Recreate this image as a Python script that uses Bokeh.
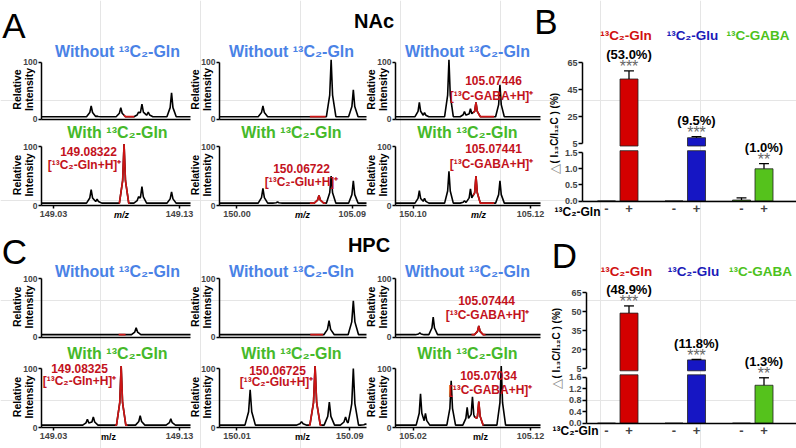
import numpy as np
from bokeh.plotting import figure
from bokeh.models import Range1d, LinearAxis, FixedTicker, NumeralTickFormatter
from bokeh.embed import file_html
from bokeh.resources import INLINE
from bokeh.core.properties import value

# ============================ DATA ============================
# ---- Panel A (NAc): peaks (m/z, relative intensity %) ----
nac_gln_without_mz = [149.0599, 149.0644, 149.0834, 149.0975, 149.1002, 149.1052, 149.1237]
nac_gln_without_int = [23, 5, 20, 12, 26, 12, 46]
nac_gln_without_red = [149.0860, 0]          # labelled peak: m/z, intensity
nac_gln_without_win = [149.0858, 149.0940]   # highlighted m/z window
nac_gln_with_mz = [149.0599, 149.0646, 149.0975, 149.1002, 149.1052, 149.1237]
nac_gln_with_int = [27, 11, 15, 32, 3, 23]
nac_gln_with_red = [149.0860, 104]
nac_gln_with_win = [149.0818, 149.0905]

nac_glu_without_mz = [150.0203, 150.0488, 150.0542, 150.0735, 150.0908]
nac_glu_without_int = [23, 2, 2, 104, 51]
nac_glu_without_red = [150.0629, 0]
nac_glu_without_win = [150.0569, 150.0691]
nac_glu_with_mz = [150.0203, 150.0317, 150.0735, 150.0862, 150.0908]
nac_glu_with_int = [29, 6, 50, 3, 42]
nac_glu_with_red = [150.0640, 17]
nac_glu_with_win = [150.0569, 150.0691]

nac_gaba_without_mz = [105.0254, 105.0298, 105.0506, 105.0638, 105.0689, 105.0940]
nac_gaba_without_int = [29, 11, 104, 13, 18, 60]
nac_gaba_without_red = [105.0736, 29]
nac_gaba_without_win = [105.0712, 105.0890]
nac_gaba_with_mz = [105.0254, 105.0298, 105.0357, 105.0506, 105.0638, 105.0689, 105.0940]
nac_gaba_with_int = [25, 12, 4, 58, 8, 28, 42]
nac_gaba_with_red = [105.0736, 50]
nac_gaba_with_win = [105.0712, 105.0890]

# ---- Panel C (HPC) ----
hpc_gln_without_mz = [149.0569, 149.0956, 149.1010, 149.1231]
hpc_gln_without_int = [3, 16, 3, 3]
hpc_gln_without_red = [149.0845, 0]
hpc_gln_without_win = [149.0817, 149.0872]
hpc_gln_with_mz = [149.0569, 149.0616, 149.0988, 149.1231]
hpc_gln_with_int = [14, 18, 20, 15]
hpc_gln_with_red = [149.0837, 104]
hpc_gln_with_win = [149.0790, 149.0887]

hpc_glu_without_mz = [150.0199, 150.0321, 150.0494, 150.0753, 150.0925, 150.0987]
hpc_glu_without_int = [3, 4, 2, 28, 62, 4]
hpc_glu_without_red = [150.0671, 0]
hpc_glu_without_win = [150.0620, 150.0710]
hpc_glu_with_mz = [150.0194, 150.0321, 150.0518, 150.0558, 150.0755, 150.0870, 150.0925, 150.1011]
hpc_glu_with_int = [64, 4, 3, 10, 43, 18, 100, 6]
hpc_glu_with_red = [150.0654, 104]
hpc_glu_with_win = [150.0610, 150.0700]

hpc_gaba_without_mz = [105.0258, 105.0372, 105.0525, 105.0661]
hpc_gaba_without_int = [7, 34, 4, 3]
hpc_gaba_without_red = [105.0760, 19]
hpc_gaba_without_win = [105.0698, 105.0817]
hpc_gaba_with_mz = [105.0264, 105.0306, 105.0525, 105.0661, 105.0706, 105.0951]
hpc_gaba_with_int = [57, 24, 79, 34, 52, 104]
hpc_gaba_with_red = [105.0760, 44]
hpc_gaba_with_win = [105.0727, 105.0800]

# x-axis tick values and their printed labels (as printed in the original)
nac_tick_vals = [[149.03, 149.13], [150.00, 150.09], [105.02, 105.12]]
nac_tick_text = [["149.03", "149.13"], ["150.00", "105.09"], ["150.10", "105.12"]]
hpc_tick_vals = [[149.03, 149.13], [150.01, 150.09], [105.02, 105.12]]
hpc_tick_text = [["149.03", "149.13"], ["150.01", "150.09"], ["105.02", "105.12"]]

# red peak annotations
nac_peak_labels = {(0, 1): ["149.08322", "[¹³C₂-Gln+H]⁺"], (1, 1): ["150.06722", "[¹³C₂-Glu+H]⁺"],
                   (2, 0): ["105.07446", "[¹³C-GABA+H]⁺"], (2, 1): ["105.07441", "[¹³C-GABA+H]⁺"]}
hpc_peak_labels = {(0, 1): ["149.08325", "[¹³C₂-Gln+H]⁺"], (1, 1): ["150.06725", "[¹³C₂-Glu+H]⁺"],
                   (2, 0): ["105.07444", "[¹³C-GABA+H]⁺"], (2, 1): ["105.07034", "[¹³C-GABA+H]⁺"]}

# ---- Bar charts (B: NAc, D: HPC) ----
bar_groups = ["¹³C₂-Gln", "¹³C₂-Glu", "¹³C-GABA"]
bar_conditions = ["-", "+", "-", "+", "-", "+"]
bar_pos = [0, 1, 3, 4, 6, 7]
nac_bar_mean = [0.0, 53.0, 0.0, 9.5, 0.03, 1.0]
nac_bar_err = [0.0, 6.0, 0.0, 0.8, 0.07, 0.16]
nac_pct = ["(53.0%)", "(9.5%)", "(1.0%)"]
nac_stars = ["***", "***", "**"]
nac_ticks_upper = [5, 25, 45, 65]
nac_ticks_lower = [0.0, 0.5, 1.0, 1.5]
hpc_bar_mean = [0.0, 48.9, 0.0, 11.8, 0.0, 1.32]
hpc_bar_err = [0.0, 5.7, 0.0, 0.4, 0.0, 0.26]
hpc_pct = ["(48.9%)", "(11.8%)", "(1.3%)"]
hpc_stars = ["***", "***", "**"]
hpc_ticks_upper = [5, 20, 35, 50, 65]
hpc_ticks_lower = [0.0, 0.4, 0.8, 1.2, 1.6]

# ============================ STYLE / LAYOUT ============================
REF_W, REF_H = 796, 448
CW, CH = 796, 448
FS = CW / REF_W
FONT = "Liberation Sans"
BLUE_T = "#4a82e6"
GREEN_T = "#45b92a"
RED_T = "#c3121c"
RED_LINE = "#cc1414"
BAR_COLORS = ["#d40000", "#d40000", "#1616c4", "#1616c4", "#55c21c", "#55c21c"]
GROUP_COLORS = ["#d01010", "#1a1ab8", "#4cc21c"]

COLS_PX = [(41, 190), (219, 366), (395, 540)]
COL_TITLE_X = [117, 291, 467]
REGIONS = {
    "A": dict(rows=[(118.5, 61.5), (205, 146)], title_y=[50.5, 131.5],
              tick_px=[(53, 179), (236.4, 351.8), (412.5, 530)],
              tick_label_y=214, mz_x=[121, 302, 478], italic=True,
              label_pos={(0, 1): [(88, 150.5), (84, 164)], (1, 1): [(301, 168), (301, 181.5)],
                         (2, 0): [(493, 80), (491, 95.5)], (2, 1): [(493, 147.7), (491, 163)]},
              letter=("A", 13.5, 24.5), name=("NAc", 373.5, 20)),
    "C": dict(rows=[(336.5, 278.3), (427, 368)], title_y=[271, 352.5],
              tick_px=[(53, 179), (236.4, 349.3), (412.5, 530)],
              tick_label_y=436, mz_x=[108, 302, 480], italic=False,
              label_pos={(0, 1): [(79, 368), (79, 380)], (1, 1): [(277, 369.5), (276, 381.5)],
                         (2, 0): [(486, 300), (487, 314.5)], (2, 1): [(488, 375), (490, 389)]},
              letter=("C", 14, 250.5), name=("HPC", 368.5, 244)),
}

p = figure(width=CW, height=CH, x_range=Range1d(0, REF_W), y_range=Range1d(REF_H, 0),
           min_border=0, toolbar_location=None, x_axis_location=None, y_axis_location=None,
           output_backend="svg", title=None)
p.outline_line_color = None
p.background_fill_color = "white"

XR, YR = {}, {}


def val_range(p0, p1, v0, v1, total, flip):
    k = (v1 - v0) / (p1 - p0)
    a = v0 - p0 * k
    b = v0 + (total - p0) * k
    return Range1d(start=b, end=a) if flip else Range1d(start=a, end=b)


def px_to_val(p0, p1, v0, v1, px):
    return v0 + (px - p0) * (v1 - v0) / (p1 - p0)


def fs(px):
    return f"{px * FS:.1f}px"


def txt(xs, ys, texts, size, color="black", style="bold", align="center", baseline="middle",
        angle=0.0, xr="default", yr="default", yoff=0):
    p.text(x=list(xs), y=list(ys), text=list(texts), text_font=value(FONT), text_font_size=fs(size),
           text_font_style=style, text_color=color, text_align=align, text_baseline=baseline,
           angle=angle, x_range_name=xr, y_range_name=yr, y_offset=yoff)


BASE = 4.0
HW = 0.0037
SHAPE_U = [0.0, 0.3, 1.0]      # peak shape (distance from apex / half width)
SHAPE_V = [1.0, 0.38, 0.0]     # fraction of peak height


def build_profile(lo, hi, mzs, ints):
    pts = {lo, hi}
    for m in mzs:
        for u in (-1.0, -0.3, 0.0, 0.3, 1.0):
            pts.add(m + u * HW)
    xs = np.array(sorted(x for x in pts if lo <= x <= hi))
    ys = np.full(len(xs), BASE)
    for m, h in zip(mzs, ints):
        u = np.abs(xs - m) / HW
        shape = np.where(u < 1, np.interp(u, SHAPE_U, SHAPE_V), 0.0)
        ys = np.maximum(ys, BASE + (h - BASE) * shape)
    return xs, ys


def style_axis(ax, size):
    ax.axis_line_width = 1.5
    ax.major_tick_line_width = 1.5
    ax.major_tick_in = 0
    ax.minor_tick_in = 0
    ax.minor_tick_out = 0
    ax.major_label_text_font = FONT
    ax.major_label_text_font_style = "bold"
    ax.major_label_text_font_size = fs(size)


SPECTRA = {
    "A": [[(nac_gln_without_mz, nac_gln_without_int, nac_gln_without_red, nac_gln_without_win),
           (nac_gln_with_mz, nac_gln_with_int, nac_gln_with_red, nac_gln_with_win)],
          [(nac_glu_without_mz, nac_glu_without_int, nac_glu_without_red, nac_glu_without_win),
           (nac_glu_with_mz, nac_glu_with_int, nac_glu_with_red, nac_glu_with_win)],
          [(nac_gaba_without_mz, nac_gaba_without_int, nac_gaba_without_red, nac_gaba_without_win),
           (nac_gaba_with_mz, nac_gaba_with_int, nac_gaba_with_red, nac_gaba_with_win)]],
    "C": [[(hpc_gln_without_mz, hpc_gln_without_int, hpc_gln_without_red, hpc_gln_without_win),
           (hpc_gln_with_mz, hpc_gln_with_int, hpc_gln_with_red, hpc_gln_with_win)],
          [(hpc_glu_without_mz, hpc_glu_without_int, hpc_glu_without_red, hpc_glu_without_win),
           (hpc_glu_with_mz, hpc_glu_with_int, hpc_glu_with_red, hpc_glu_with_win)],
          [(hpc_gaba_without_mz, hpc_gaba_without_int, hpc_gaba_without_red, hpc_gaba_without_win),
           (hpc_gaba_with_mz, hpc_gaba_with_int, hpc_gaba_with_red, hpc_gaba_with_win)]],
}
TICKS = {"A": (nac_tick_vals, nac_tick_text), "C": (hpc_tick_vals, hpc_tick_text)}
PEAK_LABELS = {"A": nac_peak_labels, "C": hpc_peak_labels}
TITLES = ["Without ¹³C₂-Gln", "With ¹³C₂-Gln"]

for reg, cfg in REGIONS.items():
    tvals, ttext = TICKS[reg]
    for c in range(3):
        x0, x1 = COLS_PX[c]
        tp0, tp1 = cfg["tick_px"][c]
        t0, t1 = tvals[c]
        lo = px_to_val(tp0, tp1, t0, t1, x0)
        hi = px_to_val(tp0, tp1, t0, t1, x1)
        xn = f"x_{reg}{c}"
        XR[xn] = val_range(tp0, tp1, t0, t1, REF_W, False)
        for r in range(2):
            y0px, y100px = cfg["rows"][r]
            yn = f"y_{reg}{r}"
            YR[yn] = val_range(y0px, y100px, 0, 100, REF_H, True)
            mz, inten, red, win = SPECTRA[reg][c][r]
            allmz = list(mz) + [red[0]]
            allint = list(inten) + [red[1]]
            xs, ys = build_profile(lo, hi, allmz, allint)
            p.line(xs, ys, line_color="black", line_width=1.6, x_range_name=xn, y_range_name=yn)
            inside = [x for x in xs if win[0] < x < win[1]]
            rx = np.array([win[0]] + inside + [win[1]])
            ry = np.interp(rx, xs, ys)
            p.line(rx, ry, line_color=RED_LINE, line_width=1.7, x_range_name=xn, y_range_name=yn)

            yax = LinearAxis(x_range_name=xn, y_range_name=yn, fixed_location=lo, bounds=(0, 100),
                             ticker=FixedTicker(ticks=[0, 100]), major_tick_out=3, major_label_standoff=1)
            style_axis(yax, 8.5)
            p.add_layout(yax, "left")
            if r == 1:
                xax = LinearAxis(x_range_name=xn, y_range_name=yn, fixed_location=0, bounds=(lo, hi),
                                 ticker=FixedTicker(ticks=list(tvals[c])),
                                 major_label_overrides={tvals[c][0]: ttext[c][0], tvals[c][1]: ttext[c][1]},
                                 major_tick_out=3, major_label_standoff=2)
            else:
                xax = LinearAxis(x_range_name=xn, y_range_name=yn, fixed_location=0, bounds=(lo, hi),
                                 ticker=FixedTicker(ticks=[]), major_tick_out=0)
            style_axis(xax, 9)
            p.add_layout(xax, "below")

            # y label
            ymid = (y0px + y100px) / 2 - 1
            txt([x0 - 25, x0 - 12.5], [ymid, ymid], ["Relative", "Intensity"], 10.5, angle=np.pi / 2)
            # title
            txt([COL_TITLE_X[c]], [cfg["title_y"][r]], [TITLES[r]], 16,
                color=BLUE_T if r == 0 else GREEN_T)
            # red labels
            if (c, r) in PEAK_LABELS[reg]:
                lab = PEAK_LABELS[reg][(c, r)]
                pos = cfg["label_pos"][(c, r)]
                txt([pos[0][0], pos[1][0]], [pos[0][1], pos[1][1]], lab, 12, color=RED_T)
        # m/z label under bottom row
        txt([cfg["mz_x"][c]], [cfg["tick_label_y"]], ["m/z"], 9,
            style="bold italic" if cfg["italic"] else "bold")
    L, lx, ly = cfg["letter"]
    txt([lx], [ly], [L], 35, style="normal")
    N, nx, ny = cfg["name"]
    txt([nx], [ny], [N], 20)

# ---------------------------- bar panels ----------------------------
BAR_X_PX = (606, 628.5)   # screen px of x=0 and x=1
BARS = {
    "B": dict(mean=nac_bar_mean, err=nac_bar_err, up_ticks=nac_ticks_upper, lo_ticks=nac_ticks_lower,
              pct=nac_pct, stars=nac_stars, axis_x=582, up=((143.3, 5), (62.3, 65)), up_break=145.5,
              lo=((200.5, 0), (152.2, 1.5)), lo_break=150.2, group_y=35,
              row_label=(577, 211.7), ylabel=(554, 163), letter=("B", 545.5, 21),
              group_x=[625.5, 692, 757.5]),
    "D": dict(mean=hpc_bar_mean, err=hpc_bar_err, up_ticks=hpc_ticks_upper, lo_ticks=hpc_ticks_lower,
              pct=hpc_pct, stars=hpc_stars, axis_x=586, up=((368, 5), (292.3, 65)), up_break=370.3,
              lo=((422.7, 0), (376.7, 1.6)), lo_break=374.3, group_y=270.7,
              row_label=(575, 430), ylabel=(556, 378), letter=("D", 564, 254.5),
              group_x=[626, 693, 760]),
}

for tag, b in BARS.items():
    xr = f"x_{tag}"
    XR[xr] = val_range(BAR_X_PX[0], BAR_X_PX[1], 0, 1, REF_W, False)
    (pu0, vu0), (pu1, vu1) = b["up"]
    (pl0, vl0), (pl1, vl1) = b["lo"]
    yu, yl = f"yu_{tag}", f"yl_{tag}"
    YR[yu] = val_range(pu0, pu1, vu0, vu1, REF_H, True)
    YR[yl] = val_range(pl0, pl1, vl0, vl1, REF_H, True)
    lo_max = vl1
    lo_clip = px_to_val(pl0, pl1, vl0, vl1, b["lo_break"])
    up_bottom = px_to_val(pu0, pu1, vu0, vu1, b["up_break"])
    ax_x = px_to_val(BAR_X_PX[0], BAR_X_PX[1], 0, 1, b["axis_x"])
    right_x = px_to_val(BAR_X_PX[0], BAR_X_PX[1], 0, 1, REF_W)

    lx, lt, lc = [], [], []
    ux, ut, uc = [], [], []
    for x, m, col in zip(bar_pos, b["mean"], BAR_COLORS):
        if m > lo_max:
            lx.append(x); lt.append(lo_clip); lc.append(col)
            ux.append(x); ut.append(m); uc.append(col)
        else:
            lx.append(x); lt.append(m); lc.append(col)
    p.vbar(x=lx, top=lt, bottom=0, width=0.8, fill_color=lc, line_color="#222222", line_width=0.8,
           x_range_name=xr, y_range_name=yl)
    p.vbar(x=ux, top=ut, bottom=up_bottom, width=0.8, fill_color=uc, line_color="#222222", line_width=0.8,
           x_range_name=xr, y_range_name=yu)

    # error bars
    for x, m, e in zip(bar_pos, b["mean"], b["err"]):
        if e <= 0:
            continue
        yn = yu if m > lo_max else yl
        p.segment(x0=[x, x - 0.22], y0=[m, m + e], x1=[x, x + 0.22], y1=[m + e, m + e],
                  line_color="black", line_width=1.3, x_range_name=xr, y_range_name=yn)

    # percentages and stars above "+" bars
    for gi, idx in enumerate([1, 3, 5]):
        m, e = b["mean"][idx], b["err"][idx]
        yn = yu if m > lo_max else yl
        txt([bar_pos[idx]], [m + e], [b["stars"][gi]], 16, color="#666666", style="normal",
            xr=xr, yr=yn, yoff=-4)
        txt([bar_pos[idx]], [m + e], [b["pct"][gi]], 13, xr=xr, yr=yn, yoff=-16)

    # axes
    ax_up = LinearAxis(x_range_name=xr, y_range_name=yu, fixed_location=ax_x, bounds=(vu0, vu1),
                       ticker=FixedTicker(ticks=b["up_ticks"]), formatter=NumeralTickFormatter(format="0"),
                       major_tick_out=4, major_label_standoff=1)
    style_axis(ax_up, 9)
    p.add_layout(ax_up, "left")
    ax_lo = LinearAxis(x_range_name=xr, y_range_name=yl, fixed_location=ax_x, bounds=(vl0, vl1),
                       ticker=FixedTicker(ticks=b["lo_ticks"]), formatter=NumeralTickFormatter(format="0.0"),
                       major_tick_out=4, major_label_standoff=1)
    style_axis(ax_lo, 9)
    p.add_layout(ax_lo, "left")
    ax_x_ = LinearAxis(x_range_name=xr, y_range_name=yl, fixed_location=0, bounds=(ax_x, right_x),
                       ticker=FixedTicker(ticks=bar_pos),
                       major_label_overrides={pos: c for pos, c in zip(bar_pos, bar_conditions)},
                       major_tick_out=0, major_label_standoff=3)
    style_axis(ax_x_, 13)
    p.add_layout(ax_x_, "below")

    # texts
    txt(b["group_x"], [b["group_y"]] * 3, bar_groups, 13.5, color=GROUP_COLORS)
    L, llx, lly = b["letter"]
    txt([llx], [lly], [L], 35, style="normal")
    rx, ry = b["row_label"]
    txt([rx], [ry], ["¹³C₂-Gln"], 12)
    gx, gy = b["ylabel"]
    txt([gx], [gy], ["( I₁₃C/I₁₂C ) (%)"], 10, align="left", angle=np.pi / 2)
    txt([gx], [gy], ["△"], 13, color="#8a8a8a", style="normal", align="right", angle=np.pi / 2)

p.extra_x_ranges = XR
p.extra_y_ranges = YR

open("out.html", "w").write(file_html(p, INLINE))
